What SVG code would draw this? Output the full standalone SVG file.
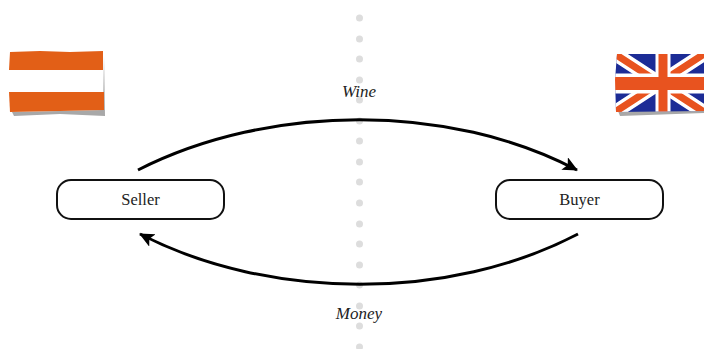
<svg xmlns="http://www.w3.org/2000/svg" width="704" height="349" viewBox="0 0 704 349">
<style>
.t{font-family:"Liberation Serif","DejaVu Serif",serif;font-size:16.500px;fill:#222;text-anchor:middle}
.i{font-style:italic;font-size:17px}
.n{fill:#fff;stroke:#111;stroke-width:2}
.c{fill:none;stroke:#000;stroke-width:3}
.d{fill:#ddd}
.o{fill:#e25f17}
.s{fill:#a8a8a8}
</style>
<defs>
<marker id="a" markerUnits="userSpaceOnUse" markerWidth="18" markerHeight="16" refX="14" refY="7" orient="auto">
<path d="M0 0L15 7L0 14L3.500 7Z" fill="#000"/>
</marker>
<clipPath id="uk"><path d="M617 54L704 54L704 111L616 112L615 80Z"/></clipPath>
</defs>
<g id="divider">
<circle class="d" cx="359.500" cy="18" r="3.500"/><circle class="d" cx="359.500" cy="39" r="3.500"/><circle class="d" cx="359.500" cy="59" r="3.500"/><circle class="d" cx="359.500" cy="80" r="3.500"/><circle class="d" cx="359.500" cy="100" r="3.500"/><circle class="d" cx="359.500" cy="121" r="3.500"/><circle class="d" cx="359.500" cy="141" r="3.500"/><circle class="d" cx="359.500" cy="162" r="3.500"/><circle class="d" cx="359.500" cy="182" r="3.500"/><circle class="d" cx="359.500" cy="203" r="3.500"/><circle class="d" cx="359.500" cy="224" r="3.500"/><circle class="d" cx="359.500" cy="244" r="3.500"/><circle class="d" cx="359.500" cy="265" r="3.500"/><circle class="d" cx="359.500" cy="285" r="3.500"/><circle class="d" cx="359.500" cy="306" r="3.500"/><circle class="d" cx="359.500" cy="326" r="3.500"/><circle class="d" cx="359.500" cy="347" r="3.500"/>
</g>
<g id="flag-austria">
<path class="s" d="M12 112L60 111L103 110L104 56L105 116L60 114L14 116Z"/>
<path class="o" d="M10 52L40 51L70 52L103 51L103 70L9 70Z"/>
<path class="o" d="M9 92L104 92L104 110L60 111L10 112Z"/>
</g>
<g id="flag-uk">
<path class="s" d="M618 111H704V113L620 116Z"/>
<g clip-path="url(#uk)">
<rect x="615" y="54" width="89" height="58" fill="#1c2c96"/>
<path d="M615 54L704 112M704 54L615 112" stroke="#fff" stroke-width="14"/>
<path d="M615 54L704 112M704 54L615 112" stroke="#e8531f" stroke-width="7"/>
<path d="M663 54V112" stroke="#fff" stroke-width="15"/>
<path d="M615 83.500H704" stroke="#fff" stroke-width="20"/>
<path d="M663 54V112" stroke="#e8531f" stroke-width="9"/>
<path d="M615 83.500H704" stroke="#e8531f" stroke-width="13"/>
</g>
</g>
<g id="connectors">
<path class="c" d="M138 170C270 103 450 103 577 170" marker-end="url(#a)"/>
<path class="c" d="M578 234C450 301 270 301 140 234" marker-end="url(#a)"/>
</g>
<g id="seller">
<rect class="n" x="57" y="180" width="167" height="39" rx="14"/>
<text class="t" x="140.500" y="205">Seller</text>
</g>
<g id="buyer">
<rect class="n" x="496" y="180" width="167" height="39" rx="14"/>
<text class="t" x="579.500" y="205">Buyer</text>
</g>
<text class="t i" x="359" y="97">Wine</text>
<text class="t i" x="359" y="319">Money</text>
</svg>
